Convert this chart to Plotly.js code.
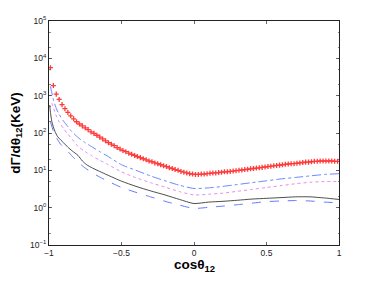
<!DOCTYPE html>
<html>
<head>
<meta charset="utf-8">
<script src="https://cdn.plot.ly/plotly-3.0.1.min.js"></script>
<style>html,body{margin:0;padding:0;background:#fff;}#chart{width:374px;height:281px;}</style>
</head>
<body>
<div id="chart"></div>
<script>
// ---- data ----
const redX = [-0.99,-0.97,-0.95,-0.93,-0.91,-0.89,-0.87,-0.85,-0.83,-0.81,-0.79,-0.77,-0.75,-0.73,-0.71,-0.69,-0.67,-0.65,-0.63,-0.61,-0.59,-0.57,-0.55,-0.53,-0.51,-0.49,-0.47,-0.45,-0.43,-0.41,-0.39,-0.37,-0.35,-0.33,-0.31,-0.29,-0.27,-0.25,-0.23,-0.21,-0.19,-0.17,-0.15,-0.13,-0.11,-0.09,-0.07,-0.05,-0.03,-0.01,0.01,0.03,0.05,0.07,0.09,0.11,0.13,0.15,0.17,0.19,0.21,0.23,0.25,0.27,0.29,0.31,0.33,0.35,0.37,0.39,0.41,0.43,0.45,0.47,0.49,0.51,0.53,0.55,0.57,0.59,0.61,0.63,0.65,0.67,0.69,0.71,0.73,0.75,0.77,0.79,0.81,0.83,0.85,0.87,0.89,0.91,0.93,0.95,0.97,0.99];
const redY = [5620,1860,1100,794,575,447,355,288,240,200,174,155,138,123,107,97.7,87.1,77.6,69.2,61.7,55.0,50.1,45.7,40.7,37.2,33.9,31.6,28.8,26.9,25.1,23.4,21.9,20.4,19.1,17.8,17.0,15.8,15.1,14.1,13.2,12.6,11.7,11.2,10.5,10.0,9.33,8.91,8.51,8.13,7.94,7.76,7.76,7.94,7.94,8.13,8.32,8.51,8.51,8.71,8.91,9.12,9.12,9.33,9.55,9.77,10.0,10.2,10.5,10.7,11.0,11.2,11.5,11.7,12.0,12.3,12.6,12.9,13.2,13.5,13.8,14.1,14.5,14.8,15.1,15.1,15.5,15.8,16.2,16.6,16.6,17.0,17.4,17.4,17.8,17.8,17.8,17.8,17.8,17.4,17.4];

const dashdotX = [-0.99,-0.97,-0.95,-0.93,-0.9,-0.87,-0.85,-0.8,-0.75,-0.7,-0.65,-0.6,-0.5,-0.4,-0.3,-0.2,-0.1,0,0.1,0.2,0.3,0.4,0.5,0.6,0.7,0.8,0.9,1];
const dashdotY = [1778,794,457,316,209,148,117,75.9,55.0,41.7,31.6,24.5,14.1,10.0,7.08,5.25,3.98,3.27,3.39,3.72,4.17,4.68,5.25,5.89,6.46,7.08,7.76,8.13];

const dottedX = [-0.98,-0.97,-0.95,-0.93,-0.9,-0.87,-0.85,-0.8,-0.75,-0.7,-0.65,-0.6,-0.5,-0.4,-0.3,-0.2,-0.1,0,0.1,0.2,0.3,0.4,0.5,0.6,0.7,0.8,0.9,1];
const dottedY = [631,479,288,200,132,93.3,75.9,43.7,31.6,24.0,18.6,14.8,9.12,6.31,4.68,3.55,2.69,2.19,2.29,2.45,2.75,3.09,3.47,3.89,4.37,4.79,5.01,5.01];

const solidX = [-0.995,-0.99,-0.98,-0.96,-0.94,-0.9,-0.87,-0.84,-0.8,-0.77,-0.74,-0.7,-0.65,-0.6,-0.5,-0.4,-0.3,-0.2,-0.1,0,0.1,0.2,0.3,0.4,0.5,0.6,0.7,0.8,0.9,1];
const solidY = [562,355,200,112,79.4,55.0,41.7,33.1,25.1,17.8,14.1,11.5,9.33,7.59,5.13,3.72,2.82,2.19,1.66,1.29,1.41,1.48,1.58,1.70,1.78,1.86,1.95,1.95,1.82,1.66];

const dashedX = [-0.99,-0.97,-0.95,-0.92,-0.88,-0.85,-0.8,-0.75,-0.7,-0.65,-0.6,-0.5,-0.4,-0.3,-0.2,-0.1,0,0.1,0.2,0.3,0.4,0.5,0.6,0.7,0.8,0.9,1];
const dashedY = [200,112,75.9,50.1,35.5,26.3,16.6,11.5,8.51,6.61,5.25,3.47,2.57,1.95,1.48,1.17,0.955,1.02,1.10,1.20,1.32,1.45,1.51,1.55,1.51,1.41,1.35];

const xTickVals = [-1,-0.5,0,0.5,1];
const xTickText = ['\u22121','\u22120.5','0','0.5','1'];
const yTickVals = [0.1,1,10,100,1000,10000,100000];
const yTickText = ['10<sup>\u22121</sup>','10<sup>0</sup>','10<sup>1</sup>','10<sup>2</sup>','10<sup>3</sup>','10<sup>4</sup>','10<sup>5</sup>'];
const xTitle = '<b>cosθ<sub>12</sub></b>';
const yTitle = '<b>dΓ/dθ<sub>12</sub>(KeV)</b>';

const traces = [
  {x: dashedX, y: dashedY, mode:'lines', line:{color:'#4f6bff', width:0.9, dash:'dash', shape:'spline', smoothing:0.6}},
  {x: solidX, y: solidY, mode:'lines', line:{color:'#3a3a3a', width:0.9, shape:'spline', smoothing:0.6}},
  {x: dottedX, y: dottedY, mode:'lines', line:{color:'#e38cf0', width:1, dash:'dot', shape:'spline', smoothing:0.6}},
  {x: dashdotX, y: dashdotY, mode:'lines', line:{color:'#5a78ff', width:0.9, dash:'dashdot', shape:'spline', smoothing:0.6}},
  {x: redX, y: redY, mode:'markers', marker:{symbol:'cross-thin-open', size:3.6, color:'#ff3a3a', line:{color:'#ff3a3a', width:1.3}}}
];

const titleFont = {family:'Liberation Sans, Arial, sans-serif', size:13.5, color:'#000'};
const tickFont = {family:'Liberation Sans, Arial, sans-serif', size:8.5, color:'#222'};
const layout = {
  width:374, height:281,
  margin:{l:49, r:35, t:21, b:36},
  paper_bgcolor:'#fff', plot_bgcolor:'#fff',
  showlegend:false,
  xaxis:{
    range:[-1,1], tickvals:xTickVals, ticktext:xTickText,
    ticks:'inside', ticklen:3, tickcolor:'#444', tickwidth:0.8,
    showline:true, linecolor:'#222', linewidth:1, mirror:'ticks',
    showgrid:false, zeroline:false, tickfont:tickFont
  },
  yaxis:{
    type:'log', range:[-1,5], tickvals:yTickVals, ticktext:yTickText,
    ticks:'inside', ticklen:3, tickcolor:'#444', tickwidth:0.8,
    minor:{ticks:'inside', ticklen:1.5, tickcolor:'#666', showgrid:false},
    showline:true, linecolor:'#222', linewidth:1, mirror:'ticks',
    showgrid:false, zeroline:false, tickfont:tickFont
  },
  annotations:[
    {text:xTitle, xref:'paper', yref:'paper', x:0.5, y:-0.092, xanchor:'center', yanchor:'middle', showarrow:false, font:titleFont},
    {text:yTitle, xref:'paper', yref:'paper', x:-0.115, y:0.5, xanchor:'center', yanchor:'middle', textangle:-90, showarrow:false, font:titleFont}
  ]
};
Plotly.newPlot('chart', traces, layout, {staticPlot:true, displayModeBar:false});
</script>
</body>
</html>
